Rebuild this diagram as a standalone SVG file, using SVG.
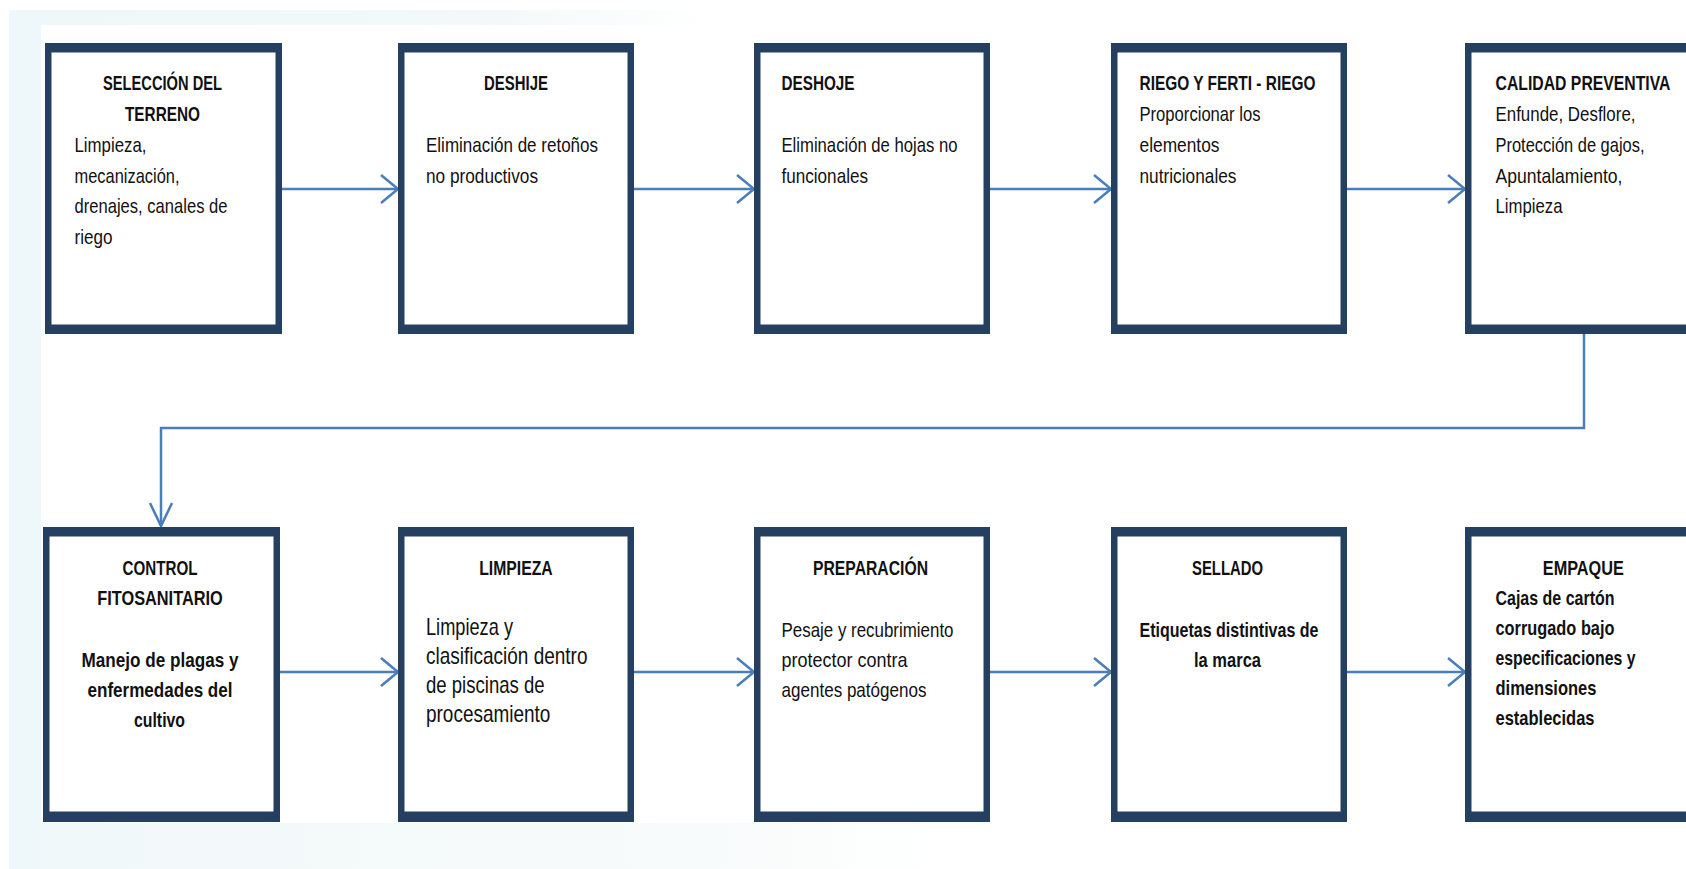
<svg xmlns="http://www.w3.org/2000/svg" width="1686" height="869" viewBox="0 0 1686 869">
<style>
.frame{fill:#243f60}
.inner{fill:#ffffff}
.t{font-family:"Liberation Sans Narrow","Liberation Sans",Arial,sans-serif;font-size:21px;fill:#111111}
.b{font-weight:bold}
.a{font-family:"Liberation Sans Narrow","Liberation Sans",Arial,sans-serif;font-size:24px;fill:#111111}
.c{text-anchor:middle}
.conn{fill:none;stroke:#4a7ebb;stroke-width:2.5}
</style>
<defs>
<marker id="arrH" markerUnits="userSpaceOnUse" markerWidth="20" markerHeight="32" viewBox="-1 -2 20 32" refX="17" refY="14" orient="auto">
<path d="M0,0 L17,14 L0,28" fill="none" stroke="#4a7ebb" stroke-width="2.5"/>
</marker>
<marker id="arrV" markerUnits="userSpaceOnUse" markerWidth="26" markerHeight="26" viewBox="-1 -2 26 26" refX="23" refY="11" orient="auto">
<path d="M0,0 L23,11 L0,22" fill="none" stroke="#4a7ebb" stroke-width="2.5"/>
</marker>
<linearGradient id="gTop" x1="0" y1="0" x2="1" y2="0">
<stop offset="0" stop-color="#eef7f9"/>
<stop offset="0.7" stop-color="#f3f9fa"/>
<stop offset="1" stop-color="#ffffff"/>
</linearGradient>
<linearGradient id="gBot" x1="0" y1="0" x2="1" y2="0">
<stop offset="0" stop-color="#f1f8f9"/>
<stop offset="0.75" stop-color="#f8fbfb"/>
<stop offset="1" stop-color="#ffffff"/>
</linearGradient>
</defs>
<g id="background">
<rect x="0" y="0" width="1686" height="869" fill="#ffffff"/>
<rect x="9" y="10" width="700" height="15" fill="url(#gTop)"/>
<rect x="9" y="10" width="32" height="859" fill="#eef7f9"/>
<rect x="41" y="823" width="900" height="46" fill="url(#gBot)"/>
</g>
<g id="connectors">
<path class="conn" d="M282,189 H398" marker-end="url(#arrH)"/>
<path class="conn" d="M634,189 H754" marker-end="url(#arrH)"/>
<path class="conn" d="M990,189 H1111" marker-end="url(#arrH)"/>
<path class="conn" d="M1347,189 H1465" marker-end="url(#arrH)"/>
<path class="conn" d="M1584,334 V428 H161 V526" marker-end="url(#arrV)"/>
<path class="conn" d="M280,672 H398" marker-end="url(#arrH)"/>
<path class="conn" d="M634,672 H754" marker-end="url(#arrH)"/>
<path class="conn" d="M990,672 H1111" marker-end="url(#arrH)"/>
<path class="conn" d="M1347,672 H1465" marker-end="url(#arrH)"/>
</g>
<g id="n1">
<rect class="frame" x="45" y="43" width="237" height="291"/>
<rect class="inner" x="51.5" y="52.5" width="224" height="272"/>
<text class="t b c" x="162.5" y="90" textLength="119" lengthAdjust="spacingAndGlyphs">SELECCIÓN DEL</text>
<text class="t b c" x="162.5" y="121" textLength="75" lengthAdjust="spacingAndGlyphs">TERRENO</text>
<text class="t" x="74.5" y="152" textLength="72" lengthAdjust="spacingAndGlyphs">Limpieza,</text>
<text class="t" x="74.5" y="183" textLength="105" lengthAdjust="spacingAndGlyphs">mecanización,</text>
<text class="t" x="74.5" y="213" textLength="153" lengthAdjust="spacingAndGlyphs">drenajes, canales de</text>
<text class="t" x="74.5" y="244" textLength="38" lengthAdjust="spacingAndGlyphs">riego</text>
</g>
<g id="n2">
<rect class="frame" x="398" y="43" width="236" height="291"/>
<rect class="inner" x="404.5" y="52.5" width="223" height="272"/>
<text class="t b c" x="516" y="90" textLength="64" lengthAdjust="spacingAndGlyphs">DESHIJE</text>
<text class="t" x="426" y="152" textLength="172" lengthAdjust="spacingAndGlyphs">Eliminación de retoños</text>
<text class="t" x="426" y="183" textLength="112" lengthAdjust="spacingAndGlyphs">no productivos</text>
</g>
<g id="n3">
<rect class="frame" x="754" y="43" width="236" height="291"/>
<rect class="inner" x="760.5" y="52.5" width="223" height="272"/>
<text class="t b" x="781.5" y="90" textLength="73" lengthAdjust="spacingAndGlyphs">DESHOJE</text>
<text class="t" x="781.5" y="152" textLength="176" lengthAdjust="spacingAndGlyphs">Eliminación de hojas no</text>
<text class="t" x="781.5" y="183" textLength="86.5" lengthAdjust="spacingAndGlyphs">funcionales</text>
</g>
<g id="n4">
<rect class="frame" x="1111" y="43" width="236" height="291"/>
<rect class="inner" x="1117.5" y="52.5" width="223" height="272"/>
<text class="t b" x="1139.5" y="90" textLength="176" lengthAdjust="spacingAndGlyphs">RIEGO Y FERTI - RIEGO</text>
<text class="t" x="1139.5" y="121" textLength="121" lengthAdjust="spacingAndGlyphs">Proporcionar los</text>
<text class="t" x="1139.5" y="152" textLength="80" lengthAdjust="spacingAndGlyphs">elementos</text>
<text class="t" x="1139.5" y="183" textLength="97" lengthAdjust="spacingAndGlyphs">nutricionales</text>
</g>
<g id="n5">
<rect class="frame" x="1465" y="43" width="238" height="291"/>
<rect class="inner" x="1471.5" y="52.5" width="225" height="272"/>
<text class="t b" x="1495.5" y="90" textLength="175" lengthAdjust="spacingAndGlyphs">CALIDAD PREVENTIVA</text>
<text class="t" x="1495.5" y="121" textLength="140" lengthAdjust="spacingAndGlyphs">Enfunde, Desflore,</text>
<text class="t" x="1495.5" y="152" textLength="149" lengthAdjust="spacingAndGlyphs">Protección de gajos,</text>
<text class="t" x="1495.5" y="183" textLength="127" lengthAdjust="spacingAndGlyphs">Apuntalamiento,</text>
<text class="t" x="1495.5" y="213" textLength="67" lengthAdjust="spacingAndGlyphs">Limpieza</text>
</g>
<g id="n6">
<rect class="frame" x="43" y="527" width="237" height="295"/>
<rect class="inner" x="49.5" y="536.5" width="224" height="275"/>
<text class="t b c" x="160" y="575" textLength="75" lengthAdjust="spacingAndGlyphs">CONTROL</text>
<text class="t b c" x="160" y="605" textLength="125.5" lengthAdjust="spacingAndGlyphs">FITOSANITARIO</text>
<text class="t b c" x="160" y="667" textLength="157" lengthAdjust="spacingAndGlyphs">Manejo de plagas y</text>
<text class="t b c" x="160" y="697" textLength="145" lengthAdjust="spacingAndGlyphs">enfermedades del</text>
<text class="t b c" x="159.5" y="727" textLength="51" lengthAdjust="spacingAndGlyphs">cultivo</text>
</g>
<g id="n7">
<rect class="frame" x="398" y="527" width="236" height="295"/>
<rect class="inner" x="404.5" y="536.5" width="223" height="275"/>
<text class="t b c" x="516" y="575" textLength="73.5" lengthAdjust="spacingAndGlyphs">LIMPIEZA</text>
<text class="a" x="426" y="635" textLength="87" lengthAdjust="spacingAndGlyphs">Limpieza y</text>
<text class="a" x="426" y="664" textLength="161.5" lengthAdjust="spacingAndGlyphs">clasificación dentro</text>
<text class="a" x="426" y="693" textLength="118.6" lengthAdjust="spacingAndGlyphs">de piscinas de</text>
<text class="a" x="426" y="722" textLength="124.4" lengthAdjust="spacingAndGlyphs">procesamiento</text>
</g>
<g id="n8">
<rect class="frame" x="754" y="527" width="236" height="295"/>
<rect class="inner" x="760.5" y="536.5" width="223" height="275"/>
<text class="t b c" x="870.5" y="575" textLength="115" lengthAdjust="spacingAndGlyphs">PREPARACIÓN</text>
<text class="t" x="781.5" y="637" textLength="172" lengthAdjust="spacingAndGlyphs">Pesaje y recubrimiento</text>
<text class="t" x="781.5" y="667" textLength="126" lengthAdjust="spacingAndGlyphs">protector contra</text>
<text class="t" x="781.5" y="697" textLength="145" lengthAdjust="spacingAndGlyphs">agentes patógenos</text>
</g>
<g id="n9">
<rect class="frame" x="1111" y="527" width="236" height="295"/>
<rect class="inner" x="1117.5" y="536.5" width="223" height="275"/>
<text class="t b c" x="1227.5" y="575" textLength="71" lengthAdjust="spacingAndGlyphs">SELLADO</text>
<text class="t b c" x="1229" y="637" textLength="179" lengthAdjust="spacingAndGlyphs">Etiquetas distintivas de</text>
<text class="t b c" x="1227.5" y="667" textLength="67" lengthAdjust="spacingAndGlyphs">la marca</text>
</g>
<g id="n10">
<rect class="frame" x="1465" y="527" width="238" height="295"/>
<rect class="inner" x="1471.5" y="536.5" width="225" height="275"/>
<text class="t b c" x="1583.3" y="575" textLength="81" lengthAdjust="spacingAndGlyphs">EMPAQUE</text>
<text class="t b" x="1495.5" y="605" textLength="119" lengthAdjust="spacingAndGlyphs">Cajas de cartón</text>
<text class="t b" x="1495.5" y="635" textLength="119" lengthAdjust="spacingAndGlyphs">corrugado bajo</text>
<text class="t b" x="1495.5" y="665" textLength="140" lengthAdjust="spacingAndGlyphs">especificaciones y</text>
<text class="t b" x="1495.5" y="695" textLength="101" lengthAdjust="spacingAndGlyphs">dimensiones</text>
<text class="t b" x="1495.5" y="725" textLength="99" lengthAdjust="spacingAndGlyphs">establecidas</text>
</g>
</svg>
